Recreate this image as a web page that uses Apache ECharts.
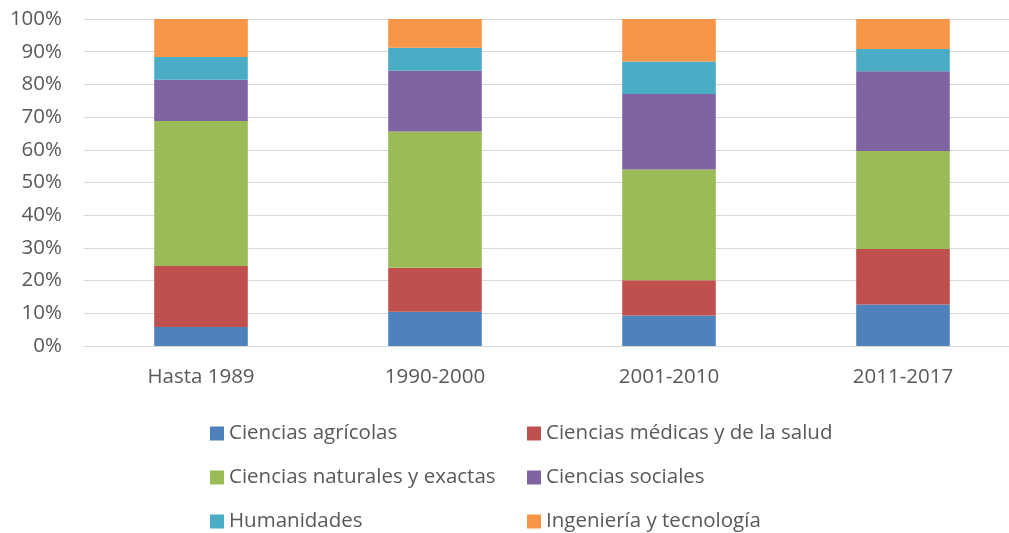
<!DOCTYPE html>
<html>
<head>
<meta charset="UTF-8">
<title>Chart</title>
<script src="https://cdn.jsdelivr.net/npm/echarts@6/dist/echarts.min.js"></script>
<style>html, body {margin: 0; padding: 0; background: #fff; overflow: hidden;} #chart {width: 1020px; height: 533px;}</style>
</head>
<body>
<div id="chart"></div>
<script>
// periods on the x axis
const periods = ['Hasta 1989', '1990-2000', '2001-2010', '2011-2017'];
// share (%) of each field per period
const agricolas = [5.8, 10.5, 9.3, 12.7];
const medicas = [18.7, 13.4, 10.8, 17.0];
const naturales = [44.3, 41.7, 33.9, 29.9];
const sociales = [12.6, 18.6, 23.1, 24.4];
const humanidades = [7.0, 7.0, 9.9, 6.8];
const ingenieria = [11.6, 8.8, 13.0, 9.2];
const yTicks = [0, 10, 20, 30, 40, 50, 60, 70, 80, 90, 100];

const font = '"Open Sans", Lato, sans-serif';
const series = [
  ['Ciencias agrícolas', agricolas, '#4F81BD'],
  ['Ciencias médicas y de la salud', medicas, '#C0504D'],
  ['Ciencias naturales y exactas', naturales, '#9BBB59'],
  ['Ciencias sociales', sociales, '#8064A2'],
  ['Humanidades', humanidades, '#4BACC6'],
  ['Ingeniería y tecnología', ingenieria, '#F79646']
].map(([name, data, color]) => ({
  name,
  type: 'bar',
  stack: 'total',
  data,
  barWidth: '40%',
  itemStyle: {color},
  emphasis: {disabled: true}
}));

const legendBase = {
  orient: 'vertical',
  top: 418,
  height: 130,
  itemWidth: 14,
  itemHeight: 14,
  itemGap: 23,
  icon: 'rect',
  textStyle: {fontFamily: font, fontSize: 20.5, color: '#595959'}
};

const chart = echarts.init(document.getElementById('chart'));
chart.setOption({
  animation: false,
  grid: {left: 84, top: 19, width: 936, height: 327},
  xAxis: {
    type: 'category',
    data: periods,
    axisTick: {show: false},
    axisLine: {lineStyle: {color: '#D9D9D9'}},
    axisLabel: {fontFamily: font, fontSize: 20.5, color: '#595959', margin: 21}
  },
  yAxis: {
    type: 'value',
    min: yTicks[0],
    max: yTicks[yTicks.length - 1],
    interval: 10,
    axisLine: {show: false},
    axisTick: {show: false},
    splitLine: {lineStyle: {color: '#D9D9D9'}},
    axisLabel: {fontFamily: font, fontSize: 20.5, color: '#595959', margin: 22, formatter: '{value}%'}
  },
  legend: [
    Object.assign({left: 205, data: [series[0].name, series[2].name, series[4].name]}, legendBase),
    Object.assign({left: 522, data: [series[1].name, series[3].name, series[5].name]}, legendBase)
  ],
  series
});
</script>
</body>
</html>
